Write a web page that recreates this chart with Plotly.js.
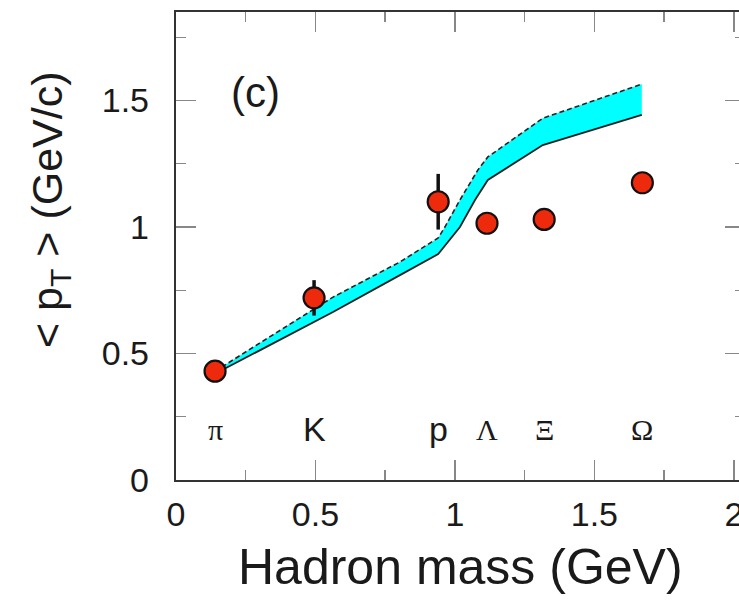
<!DOCTYPE html>
<html>
<head>
<meta charset="utf-8">
<script src="https://cdn.plot.ly/plotly-3.0.1.min.js"></script>
<style>
html,body{margin:0;padding:0;overflow:hidden;background:#fff;}
#chart{width:760px;height:606px;}
</style>
</head>
<body>
<div id="chart"></div>
<script>
// Measured data (hadron mass in GeV, <pT> in GeV/c)
const hadrons    = ['π', 'K', 'p', 'Λ', 'Ξ', 'Ω'];
const hadronMass = [0.14, 0.495, 0.94, 1.115, 1.32, 1.672];
const meanPt     = [0.43, 0.72, 1.10, 1.015, 1.03, 1.175];
const meanPtErr  = [0, 0.07, 0.11, 0, 0, 0];

// Model band: upper (dashed) and lower (solid) edges
const bandUpperX = [0.14, 0.563, 0.803, 0.94, 0.964, 1.018, 1.082, 1.118, 1.315, 1.67];
const bandUpperY = [0.43, 0.723, 0.862, 0.957, 1.0, 1.107, 1.225, 1.277, 1.43, 1.565];
const bandLowerX = [0.14, 0.563, 0.803, 0.94, 1.018, 1.072, 1.118, 1.315, 1.67];
const bandLowerY = [0.42, 0.664, 0.81, 0.893, 1.0, 1.107, 1.186, 1.324, 1.443];

// Axis ticks
const xTicks = [0, 0.5, 1, 1.5, 2];
const xTickText = ['0', '0.5', '1', '1.5', '2'];
const yTicks = [0, 0.5, 1, 1.5];
const yTickText = ['0', '0.5', '1', '1.5'];

const greekSet = new Set(['π', 'Λ', 'Ξ', 'Ω']);

const bandFill = {
  x: bandUpperX.concat(bandLowerX.slice().reverse()),
  y: bandUpperY.concat(bandLowerY.slice().reverse()),
  mode: 'lines', fill: 'toself', fillcolor: '#00ffff',
  line: {width: 0, color: 'rgba(0,0,0,0)'}, hoverinfo: 'skip', showlegend: false
};
const bandUpper = {
  x: bandUpperX, y: bandUpperY, mode: 'lines',
  line: {color: '#222', width: 1.6, dash: '5px,3px'}, showlegend: false
};
const bandLower = {
  x: bandLowerX, y: bandLowerY, mode: 'lines',
  line: {color: '#222', width: 1.8}, showlegend: false
};
const points = {
  x: hadronMass, y: meanPt, mode: 'markers', type: 'scatter',
  marker: {size: 21, color: '#ee2a0c', line: {color: '#111', width: 2.2}},
  error_y: {type: 'data', array: meanPtErr, visible: true, color: '#111', thickness: 3.5, width: 0},
  showlegend: false
};

const axisCommon = {
  showline: true, linecolor: '#333', linewidth: 2.2, mirror: 'allticks',
  ticks: 'inside', ticklen: 20, tickwidth: 1.4, tickcolor: '#888',
  showgrid: false, zeroline: false,
  tickfont: {family: 'Liberation Sans, Arial, sans-serif', size: 34, color: '#1a1a1a'},
  minor: {dtick: 0.25, ticklen: 10, tickwidth: 1.4, tickcolor: '#888', ticks: 'inside', showgrid: false}
};

const annotations = hadrons.map((h, i) => ({
  x: hadronMass[i], y: 0.2, xref: 'x', yref: 'y', text: h, showarrow: false,
  xanchor: 'center', yanchor: 'middle',
  font: greekSet.has(h)
    ? {family: 'Liberation Serif, Times New Roman, serif', size: 30, color: '#1a1a1a'}
    : {family: 'Liberation Sans, Arial, sans-serif', size: 34, color: '#1a1a1a'}
}));
annotations.push({
  x: 0.139, y: 0.829, xref: 'paper', yref: 'paper', text: '(c)', showarrow: false,
  xanchor: 'center', yanchor: 'middle',
  font: {family: 'Liberation Sans, Arial, sans-serif', size: 42, color: '#1a1a1a'}
});
annotations.push({
  x: -0.2214, y: 0.577, xref: 'paper', yref: 'paper',
  text: '&lt; p<sub>T</sub> &gt; (GeV/c)', showarrow: false, textangle: -90,
  xanchor: 'center', yanchor: 'middle',
  font: {family: 'Liberation Sans, Arial, sans-serif', size: 43, color: '#1a1a1a'}
});
annotations.push({
  x: 0.5, y: -0.186, xref: 'paper', yref: 'paper',
  text: 'Hadron mass (GeV)', showarrow: false,
  xanchor: 'center', yanchor: 'middle',
  font: {family: 'Liberation Sans, Arial, sans-serif', size: 50, color: '#1a1a1a'}
});

const layout = {
  width: 760, height: 606,
  margin: {l: 176, r: 15, t: 12, b: 126},
  paper_bgcolor: '#fff', plot_bgcolor: '#fff',
  xaxis: Object.assign({}, axisCommon, {
    range: [0, 2.04], tickvals: xTicks, ticktext: xTickText, ticklabelstandoff: 3
  }),
  yaxis: Object.assign({}, axisCommon, {
    range: [0, 1.85], tickvals: yTicks, ticktext: yTickText, ticklabelstandoff: 18
  }),
  annotations: annotations,
  showlegend: false
};

Plotly.newPlot('chart', [bandFill, bandUpper, bandLower, points], layout, {staticPlot: true, displayModeBar: false});
</script>
</body>
</html>
